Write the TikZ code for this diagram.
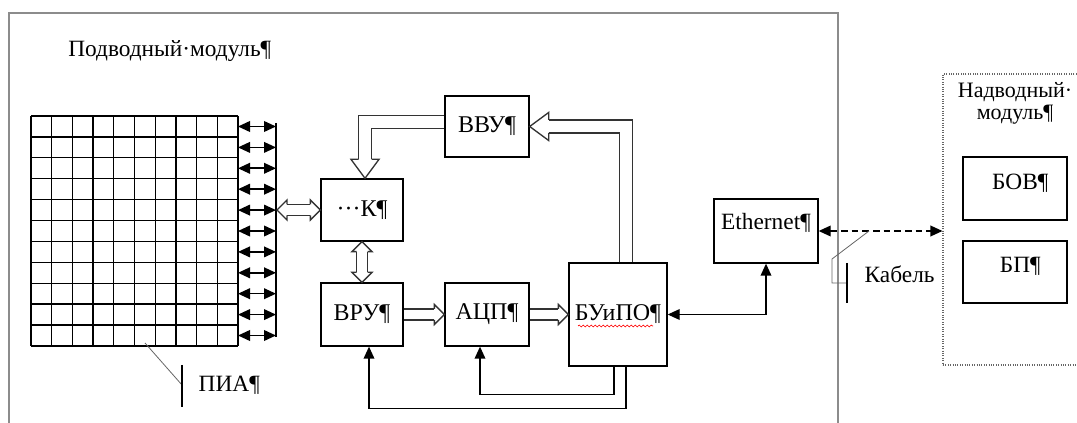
\documentclass[tikz,border=0pt]{standalone}
\usepackage{fontspec}
\setmainfont{Liberation Serif}
\usetikzlibrary{arrows.meta, calc, decorations.pathmorphing}

\tikzset{
  blk/.style={draw, line width=1pt, inner sep=0pt, font=\fontsize{18}{21}\selectfont},
  hollow/.style={draw=black!80, line width=1pt},
  shaft/.style={hollow, double=white, double distance=7.25pt},
  bigshaft/.style={hollow, double=white, double distance=8.75pt},
  hhead/.pic={\draw[hollow] (-10,-5.5) -- (-10,-10) -- (0,0) -- (-10,10) -- (-10,5.5);},
  bighead/.pic={\draw[hollow] (-19,-6.5) -- (-19,-14) -- (0,0) -- (-19,14) -- (-19,6.5);},
  sig/.style={line width=1pt, -{Triangle[length=9pt,width=8pt]}},
  sigboth/.style={line width=1pt, {Triangle[length=9pt,width=8pt]}-{Triangle[length=9pt,width=8pt]}},
  lead/.style={black!60, line width=0.6pt},
}

\begin{document}
\begin{tikzpicture}[x=0.75pt, y=-0.75pt, font=\fontsize{17.5}{20}\selectfont]
  \useasboundingbox (0,0) rectangle (1077,423);

  % Modules
  \draw[black!45, line width=0.8pt] (9,440) -- (9,13) -- (838,13) -- (838,440);
  \node[draw=black!60, densely dotted, line width=0.8pt, minimum width=132.75pt, minimum height=218.25pt] (nadv) at (1031.5,219.5) {};
  \node[anchor=base west, inner sep=0pt] (podv) at (68,57) {Подводный·модуль¶};
  \node[anchor=north, align=center, inner sep=1pt, font=\fontsize{16.5}{16.5}\selectfont] (nadvname) at (1015,81) {Надводный·\\модуль¶};

  % Antenna array
  \foreach \i in {0,...,10}
    \draw[line width=1pt] (31+\i*20.7,116) -- (31+\i*20.7,346);
  \foreach \j in {0,...,11}
    \draw[line width=1pt] (31,116+\j*20.9) -- (238,116+\j*20.9);
  \foreach \j in {0,...,10}
    \draw[line width=1.2pt, {Triangle[length=9pt,width=8pt]}-{Triangle[length=9pt,width=8pt]}] (238,126.5+\j*20.9) -- (276,126.5+\j*20.9);
  \draw[line width=1pt] (276,123) -- (276,337);
  \coordinate (bus) at (277,210);

  % Blocks
  \node[blk, minimum width=61.5pt, minimum height=46.5pt] (k) at (362,210) {···К¶};
  \node[blk, minimum width=63pt, minimum height=45.75pt] (vvu) at (487,126.5) {ВВУ¶};
  \node[blk, minimum width=61.5pt, minimum height=47.25pt] (vru) at (362,314.5) {ВРУ¶};
  \node[blk, minimum width=63pt, minimum height=47.25pt] (acp) at (487,314.5) {АЦП¶};
  \node[blk, minimum width=73.5pt, minimum height=77.25pt] (buipo) at (618,314.5) {БУиПО¶};
  \node[blk, minimum width=78pt, minimum height=48pt, label={[yshift=6pt]center:Ethernet¶}] (eth) at (766,231) {};
  \node[blk, minimum width=78pt, minimum height=47.25pt, label={[yshift=4pt, xshift=4pt]center:БОВ¶}] (bov) at (1015,188.5) {};
  \node[blk, minimum width=78pt, minimum height=46.5pt, label={[yshift=4pt, xshift=4pt]center:БП¶}] (bp) at (1015,272) {};
  \draw[red, line width=0.5pt, decorate, decoration={snake, amplitude=0.7pt, segment length=3pt}]
    ($(buipo.center)+(-40,11.5)$) -- ++(75,0);

  % Data buses
  \draw[shaft] ($(bus)+(10,0)$) -- ($(k.west)+(-10,0)$);
  \pic[rotate=180] at (bus) {hhead};
  \pic at (k.west) {hhead};
  \draw[shaft] ($(k.south)+(0,10)$) -- ($(vru.north)+(0,-10)$);
  \pic[rotate=90] at (k.south) {hhead};
  \pic[rotate=-90] at (vru.north) {hhead};
  \draw[shaft, shorten <=0.5pt] (vru.east) -- ($(acp.west)+(-10,0)$);
  \pic at (acp.west) {hhead};
  \draw[shaft, shorten <=0.5pt] (acp.east) -- ($(buipo.west)+(-10,0)$);
  \pic at (buipo.west) {hhead};
  \draw[bigshaft, shorten <=0.5pt] ($(vvu.west)+(0,-4.5)$) -| ($(k.north)+(3,-19)$);
  \pic[rotate=-90] at ($(k.north)+(3,0)$) {bighead};
  \draw[bigshaft, shorten <=0.5pt] ($(buipo.north)+(8,0)$) |- ($(vvu.east)+(19,0)$);
  \pic[rotate=180] at (vvu.east) {bighead};

  % Control lines
  \draw[sig] ($(buipo.south)+(-4,0)$) -- ++(0,28) -| ($(acp.south)+(-7,0)$);
  \draw[sig] ($(buipo.south)+(8,0)$) -- ++(0,42) -| ($(vru.south)+(7,0)$);
  \draw[sigboth] (buipo.east) -| (eth.south);
  \draw[sigboth, dash pattern=on 5pt off 3pt] (eth.east) -- (eth.east -| nadv.west);

  % Callouts
  \coordinate (kab) at (869,231);
  \draw[lead] (kab) -- (832,259) -- (832,283) -- (847,283);
  \draw[line width=0.8pt] (847,263) -- (847,303);
  \node[anchor=base west] (kabel) at (860,283) {Кабель};
  \draw[lead] (145,343) -- (182,385);
  \draw[line width=0.8pt] (182,365) -- (182,407);
  \node[anchor=base west] (pia) at (194,392) {ПИА¶};
\end{tikzpicture}
\end{document}
